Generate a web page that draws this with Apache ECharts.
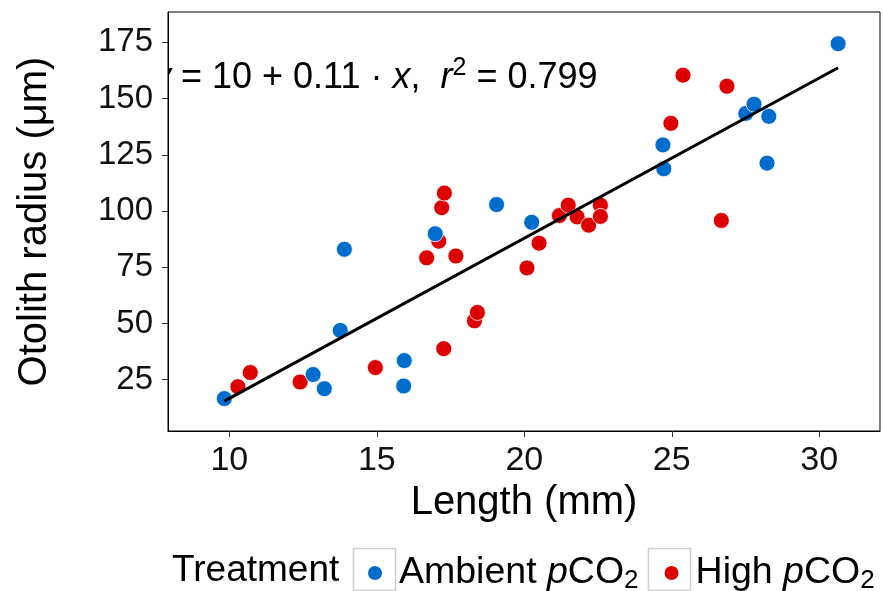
<!DOCTYPE html>
<html><head><meta charset="utf-8">
<script src="https://cdn.jsdelivr.net/npm/echarts@6/dist/echarts.min.js"></script>
<style>html,body{margin:0;padding:0;background:#fff}#c{width:883px;height:591px}</style>
</head><body><div id="c"></div>
<script>
// ---- data ----
const ambientX = [9.83,12.84,13.22,13.76,13.90,15.93,15.91,16.98,19.06,20.25,24.70,24.73,27.51,27.79,28.29,28.23,30.64];
const ambientY = [16.6,27.3,21.0,46.9,83.0,33.5,22.2,89.9,102.9,95.0,129.4,118.8,143.4,147.5,142.1,121.3,174.4];
const highX = [10.29,10.71,12.40,14.95,16.69,17.10,17.20,17.29,17.68,17.27,18.31,18.41,20.09,20.50,21.19,21.49,21.79,22.18,22.58,22.58,24.97,25.38,26.87,26.68];
const highY = [21.9,28.2,24.0,30.4,79.2,86.6,101.5,108.0,80.0,38.8,51.2,54.9,74.7,85.7,98.0,102.6,97.4,93.7,102.6,97.6,139.0,160.4,155.5,95.8];
const fitX = [9.83, 30.64];
const fitY = [15.5, 163.7];
const xTicks = [10, 15, 20, 25, 30];
const yTicks = [25, 50, 75, 100, 125, 150, 175];
const seriesNames = ['Ambient pCO2', 'High pCO2'];
const legendTitle = 'Treatment';
const xTitle = 'Length (mm)';
const yTitle = 'Otolith radius (\u03bcm)';

const FONT = '"Liberation Sans", Arial, Helvetica, sans-serif';
const BLUE = '#006CCC', RED = '#DD0000';

const zip = (xs, ys) => xs.map((x, i) => [x, ys[i]]);

const chart = echarts.init(document.getElementById('c'), null, {renderer: 'canvas'});
const option = {
  animation: false,
  backgroundColor: '#fff',
  textStyle: {fontFamily: FONT},
  grid: {left: 168, right: 3, top: 12, bottom: 160, show: true, borderColor: '#000', borderWidth: 1, containLabel: false, outerBoundsMode: 'none'},
  xAxis: {
    type: 'value', min: 7.92, max: 32.06,
    splitLine: {show: false},
    axisLine: {show: true, onZero: false, lineStyle: {color: '#000', width: 1}},
    axisTick: {show: true, length: 6, customValues: xTicks, lineStyle: {color: '#333', width: 1}},
    axisLabel: {customValues: xTicks, fontSize: 34, color: '#111', margin: 13, fontFamily: FONT},
    name: xTitle, nameLocation: 'middle', nameGap: 30,
    nameTextStyle: {fontSize: 40, color: '#000', fontFamily: FONT, verticalAlign: 'top'}
  },
  yAxis: {
    type: 'value', min: 2.2, max: 188.5,
    splitLine: {show: false},
    axisLine: {show: true, onZero: false, lineStyle: {color: '#000', width: 1}},
    axisTick: {show: true, length: 6, customValues: yTicks, lineStyle: {color: '#333', width: 1}},
    axisLabel: {customValues: yTicks, fontSize: 33, color: '#111', margin: 15, fontFamily: FONT},
    name: yTitle, nameLocation: 'middle', nameGap: 113,
    nameTextStyle: {fontSize: 40, color: '#000', fontFamily: FONT}
  },
  legend: {
    data: seriesNames,
    left: 361, top: 549,
    orient: 'horizontal',
    itemWidth: 16, itemHeight: 16, itemGap: 24,
    icon: 'circle',
    selectedMode: false,
    formatter: function (name) {
      const head = name.replace(' pCO2', ' ');
      return '{g| }{t|' + head + '}{i|p}{t|CO}{s|2}';
    },
    textStyle: {
      fontFamily: FONT, color: '#000', fontSize: 37.5,
      rich: {
        g: {width: 11, fontSize: 37.5, lineHeight: 42},
        t: {fontSize: 37.5, fontFamily: FONT, lineHeight: 42, color: '#000'},
        i: {fontSize: 37.5, fontFamily: FONT, fontStyle: 'italic', lineHeight: 42, color: '#000'},
        s: {fontSize: 26, fontFamily: FONT, lineHeight: 22, verticalAlign: 'bottom', color: '#000'}
      }
    }
  },
  graphic: [
    {type: 'text', left: 172, top: 552, style: {text: legendTitle, font: '37px ' + FONT, fill: '#000'}},
    {type: 'rect', shape: {x: 353.5, y: 548.5, width: 42, height: 42}, style: {fill: 'none', stroke: '#cfcfcf', lineWidth: 1.5}, z: -1},
    {type: 'rect', shape: {x: 648.5, y: 548.5, width: 42, height: 42}, style: {fill: 'none', stroke: '#cfcfcf', lineWidth: 1.5}, z: -1}
  ],
  series: [
    {
      name: seriesNames[1], type: 'scatter', data: zip(highX, highY),
      symbolSize: 16, itemStyle: {color: RED, borderColor: '#fff', borderWidth: 0.8, opacity: 1}, z: 2
    },
    {
      name: seriesNames[0], type: 'scatter', data: zip(ambientX, ambientY),
      symbolSize: 16, itemStyle: {color: BLUE, borderColor: '#fff', borderWidth: 0.8, opacity: 1}, z: 3
    },
    {
      name: 'fit', type: 'line', data: zip(fitX, fitY), showSymbol: false, symbol: 'none',
      lineStyle: {color: '#000', width: 3}, z: 4, silent: true
    },
    {
      name: 'equation', type: 'custom', clip: true, z: 5, silent: true,
      data: [[0, 0]],
      renderItem: function (params, api) {
        const cs = params.coordSys;
        return {
          type: 'text',
          x: cs.x - 15, y: cs.y + 66,
          style: {
            text: '{i|y}{t| = 10 + 0.11 \u00b7 }{i|x}{t|,  }{i|r}{u|2}{t| = 0.799}',
            verticalAlign: 'middle', align: 'left',
            rich: {
              t: {fontSize: 36, fontFamily: FONT, lineHeight: 44, fill: '#000'},
              i: {fontSize: 36, fontFamily: FONT, fontStyle: 'italic', lineHeight: 44, fill: '#000'},
              u: {fontSize: 25, fontFamily: FONT, lineHeight: 24, verticalAlign: 'top', fill: '#000'}
            }
          }
        };
      }
    }
  ]
};
chart.setOption(option);
</script>
</body></html>
